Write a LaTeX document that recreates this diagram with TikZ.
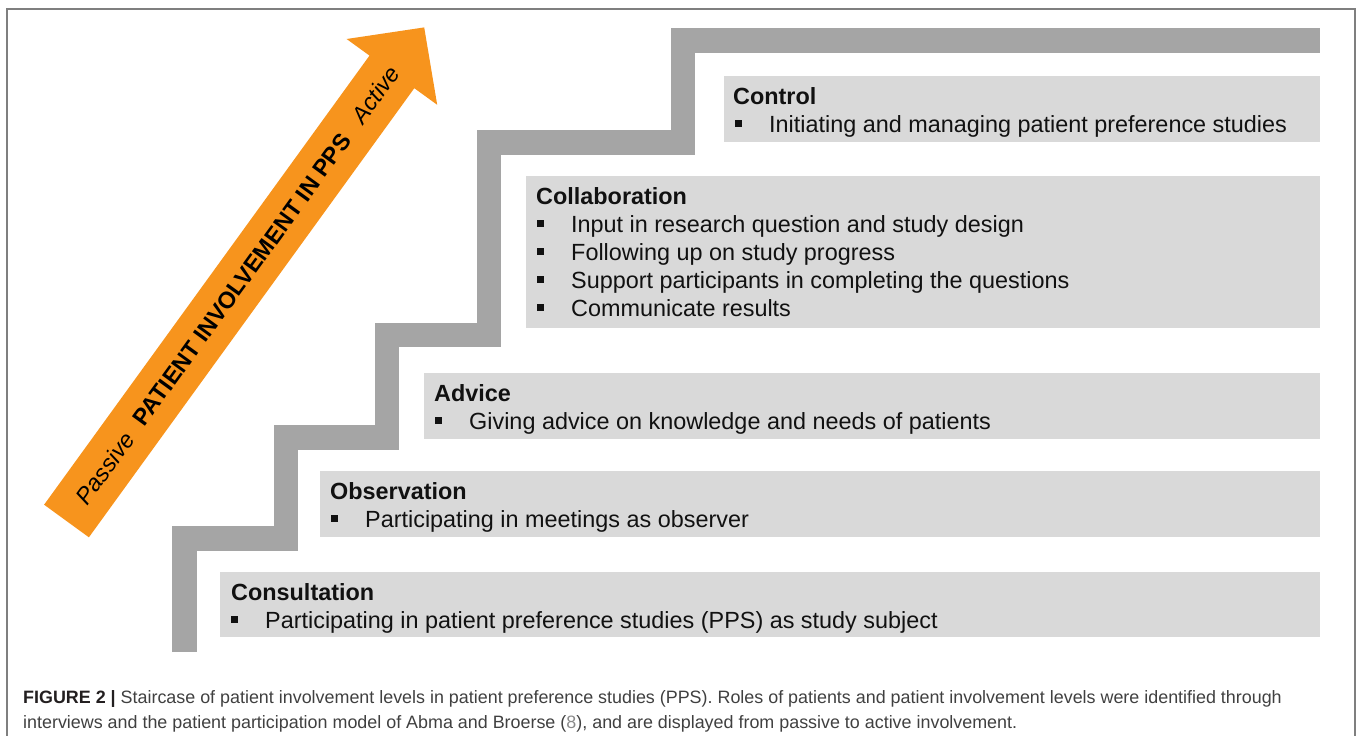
\documentclass[tikz,border=0pt]{standalone}
\usepackage{fontspec}
\setmainfont{Liberation Sans}
\definecolor{stairgray}{HTML}{A5A5A5}
\definecolor{boxgray}{HTML}{D9D9D9}
\definecolor{arroworange}{HTML}{F7941D}
\definecolor{framegray}{HTML}{7F7F7F}
\definecolor{captext}{HTML}{404040}
\definecolor{capbold}{HTML}{231F20}
\definecolor{refgray}{HTML}{8A8A8A}
\definecolor{boxtext}{HTML}{111111}
\newcommand\bulletmark{\makebox[34pt][l]{\raisebox{5pt}{\rule{7pt}{7pt}}}}
\tikzset{
  levelbox/.style={fill=boxgray, draw=none, inner sep=0pt, anchor=north west},
  headtext/.style={anchor=base west, inner sep=0pt, text=boxtext, font=\fontsize{23.4}{28}\selectfont\bfseries},
  itemtext/.style={anchor=base west, inner sep=0pt, text=boxtext, font=\fontsize{23.4}{28}\selectfont},
  arrowtext/.style={inner sep=0pt, text=black, rotate=54.06, font=\fontsize{23.4}{28}\selectfont},
  captiontext/.style={anchor=base west, inner sep=0pt, text=captext, font=\fontsize{17.9}{25}\selectfont},
}
\begin{document}
\begin{tikzpicture}[x=1pt,y=-1pt]
\useasboundingbox (0,0) rectangle (1358,736);
% frame
\draw[framegray, line width=1.5pt] (7,737) -- (7,9) -- (1355,9) -- (1355,737);
% staircase
\draw[stairgray, line width=24.5pt, line join=miter]
  (184.5,652) -- (184.5,538.5) -- (286,538.5) -- (286,437.5) -- (387,437.5)
  -- (387,335) -- (489,335) -- (489,142.5) -- (683,142.5) -- (683,40.5) -- (1320,40.5);
% orange arrow
\fill[arroworange] (44.1,504.7) -- (369.5,55.6) -- (346.6,39.0) -- (424.2,27.4)
  -- (437.2,104.8) -- (414.3,88.2) -- (88.9,537.3) -- cycle;
\node[arrowtext] (involve) at (237.6,285.0)
  {{\itshape Passive}\hspace{15.5pt}{\bfseries PATIENT INVOLVEMENT IN PPS}\hspace{19.5pt}{\itshape Active}};
% boxes
\node[levelbox, minimum width=596pt, minimum height=66pt] (control) at (724,76) {};
\node[levelbox, minimum width=794pt, minimum height=152pt] (collab) at (526,176) {};
\node[levelbox, minimum width=896pt, minimum height=66pt] (advice) at (424,373) {};
\node[levelbox, minimum width=1000pt, minimum height=66pt] (observ) at (320,471) {};
\node[levelbox, minimum width=1100pt, minimum height=65pt] (consult) at (220,572) {};
% control
\node[headtext] (controlh) at (733,104) {Control};
\node[itemtext] (control1) at (735,132) {\bulletmark Initiating and managing patient preference studies};
% collaboration
\node[headtext] (collabh) at (536,204) {Collaboration};
\node[itemtext] (collab1) at (537,232) {\bulletmark Input in research question and study design};
\node[itemtext] (collab2) at (537,260) {\bulletmark Following up on study progress};
\node[itemtext] (collab3) at (537,288) {\bulletmark Support participants in completing the questions};
\node[itemtext] (collab4) at (537,316) {\bulletmark Communicate results};
% advice
\node[headtext] (adviceh) at (434,401) {Advice};
\node[itemtext] (advice1) at (435,429) {\bulletmark Giving advice on knowledge and needs of patients};
% observation
\node[headtext] (observh) at (330,499) {Observation};
\node[itemtext] (observ1) at (331,527) {\bulletmark Participating in meetings as observer};
% consultation
\node[headtext] (consulth) at (231,600) {Consultation};
\node[itemtext] (consult1) at (231,628) {\bulletmark Participating in patient preference studies (PPS) as study subject};
% caption
\node[captiontext] (cap1) at (23,703) {{\color{capbold}\bfseries FIGURE 2 |} Staircase of patient involvement levels in patient preference studies (PPS). Roles of patients and patient involvement levels were identified through};
\node[captiontext] (cap2) at (23,728) {interviews and the patient participation model of Abma and Broerse ({\color{refgray}8}), and are displayed from passive to active involvement.};
\end{tikzpicture}
\end{document}
